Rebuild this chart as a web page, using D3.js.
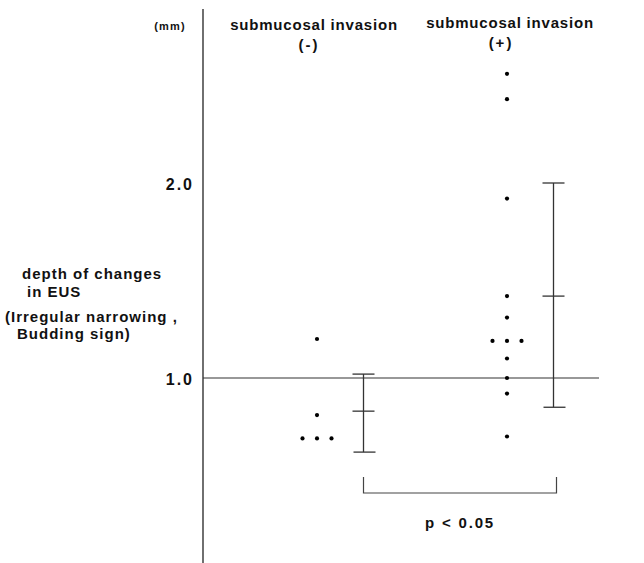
<!DOCTYPE html>
<html>
<head>
<meta charset="utf-8">
<script src="https://cdn.jsdelivr.net/npm/d3@7/dist/d3.min.js"></script>
<style>
  body { margin: 0; background: #fff; }
  svg text { font-family: "Liberation Sans", Arial, sans-serif; font-weight: bold; fill: #111; }
</style>
</head>
<body>
<div id="chart"></div>
<script>
// groups and values (mm)
const groups = ['neg', 'pos'];
const groupTitles = ['submucosal invasion', 'submucosal invasion'];
const groupSigns = ['(-)', '(+)'];

// each point: group, value, column slot (-1, 0, 1)
const negValues = [1.2, 0.81, 0.69, 0.69, 0.69];
const negSlots = [0, 0, -1, 0, 1];
const posValues = [2.56, 2.43, 1.92, 1.42, 1.31, 1.19, 1.19, 1.19, 1.1, 1.0, 0.92, 0.7];
const posSlots = [0, 0, 0, 0, 0, -1, 0, 1, 0, 0, 0, 0];

// mean and range bars
const barMeans = [0.83, 1.42];
const barLows = [0.62, 0.85];
const barHighs = [1.02, 2.0];

const yTicks = [1.0, 2.0];
const refValue = 1.0;
const pLabel = 'p < 0.05';

const width = 644, height = 563;
const axisX = 203;

const svg = d3.select('#chart').append('svg')
    .attr('width', width)
    .attr('height', height);

const y = d3.scaleLinear().domain([1, 2]).range([378, 183]);
const x = d3.scalePoint().domain(groups).range([317, 507]);
const slotW = 14.5;
const barOff = 46.5;
const capW = 11;

// vertical axis line
svg.append('line')
    .attr('x1', axisX).attr('x2', axisX)
    .attr('y1', 9).attr('y2', height)
    .attr('stroke', '#222').attr('stroke-width', 1.3);

// tick labels
const axis = d3.axisLeft(y).tickValues(yTicks).tickSize(0).tickPadding(9).tickFormat(d3.format('.1f'));
const gAxis = svg.append('g').attr('transform', `translate(${axisX},0)`).call(axis);
gAxis.select('.domain').remove();
gAxis.selectAll('text')
    .attr('dy', '0.38em')
    .style('font-family', '"Liberation Sans", Arial, sans-serif')
    .style('font-weight', 'bold')
    .style('font-size', '16px')
    .style('letter-spacing', '2px')
    .attr('fill', '#111');

// reference line at 1.0
svg.append('line')
    .attr('x1', axisX).attr('x2', 599)
    .attr('y1', y(refValue)).attr('y2', y(refValue))
    .attr('stroke', '#333').attr('stroke-width', 1.2);

// unit
svg.append('text').attr('x', 170).attr('y', 30).attr('text-anchor', 'middle')
    .style('font-size', '11px').style('letter-spacing', '1.2px').text('(mm)');

// group titles
const titleShift = [-3, 3];
const signShift = [-8, -6];
groups.forEach((g, i) => {
    svg.append('text').attr('x', x(g) + titleShift[i]).attr('y', i === 0 ? 30 : 28).attr('text-anchor', 'middle')
        .style('font-size', '15px').style('letter-spacing', '0.8px').text(groupTitles[i]);
    svg.append('text').attr('x', x(g) + signShift[i]).attr('y', i === 0 ? 50 : 48).attr('text-anchor', 'middle')
        .style('font-size', '15px').style('letter-spacing', '2px').text(groupSigns[i]);
});

// y label
const yLabelLines = [
    { t: 'depth of changes', x: 22, y: 279 },
    { t: 'in EUS', x: 27, y: 297 },
    { t: '(Irregular narrowing ,', x: 5, y: 322 },
    { t: 'Budding sign)', x: 17, y: 339 }
];
svg.selectAll('.ylab').data(yLabelLines).enter().append('text')
    .attr('class', 'ylab')
    .attr('x', d => d.x).attr('y', d => d.y)
    .style('font-size', '15px').style('letter-spacing', '1px')
    .text(d => d.t);

// points
const points = [
    ...negValues.map((v, i) => ({ g: 'neg', v, s: negSlots[i] })),
    ...posValues.map((v, i) => ({ g: 'pos', v, s: posSlots[i] }))
];
svg.selectAll('.dot').data(points).enter().append('circle')
    .attr('class', 'dot')
    .attr('cx', d => x(d.g) + d.s * slotW)
    .attr('cy', d => y(d.v))
    .attr('r', 2.1)
    .attr('fill', '#000');

// mean / range bars
const bars = groups.map((g, i) => ({ g, m: barMeans[i], lo: barLows[i], hi: barHighs[i] }));
const gb = svg.selectAll('.bar').data(bars).enter().append('g').attr('class', 'bar')
    .attr('stroke', '#333').attr('stroke-width', 1.3);
gb.append('line')
    .attr('x1', d => x(d.g) + barOff).attr('x2', d => x(d.g) + barOff)
    .attr('y1', d => y(d.hi)).attr('y2', d => y(d.lo));
[['hi', 0], ['m', 0], ['lo', 1]].forEach(([k, sh]) => {
    gb.append('line')
        .attr('x1', d => x(d.g) + barOff - capW + sh)
        .attr('x2', d => x(d.g) + barOff + capW + sh)
        .attr('y1', d => y(d[k])).attr('y2', d => y(d[k]));
});

// significance bracket
const bx0 = x('neg') + barOff, bx1 = x('pos') + barOff + 3;
svg.append('path')
    .attr('d', `M${bx0},477 V493 H${bx1} V477`)
    .attr('fill', 'none').attr('stroke', '#444').attr('stroke-width', 1.2);
svg.append('text').attr('x', (bx0 + bx1) / 2).attr('y', 528).attr('text-anchor', 'middle')
    .style('font-size', '15px').style('letter-spacing', '1.8px').text(pLabel);
</script>
</body>
</html>
